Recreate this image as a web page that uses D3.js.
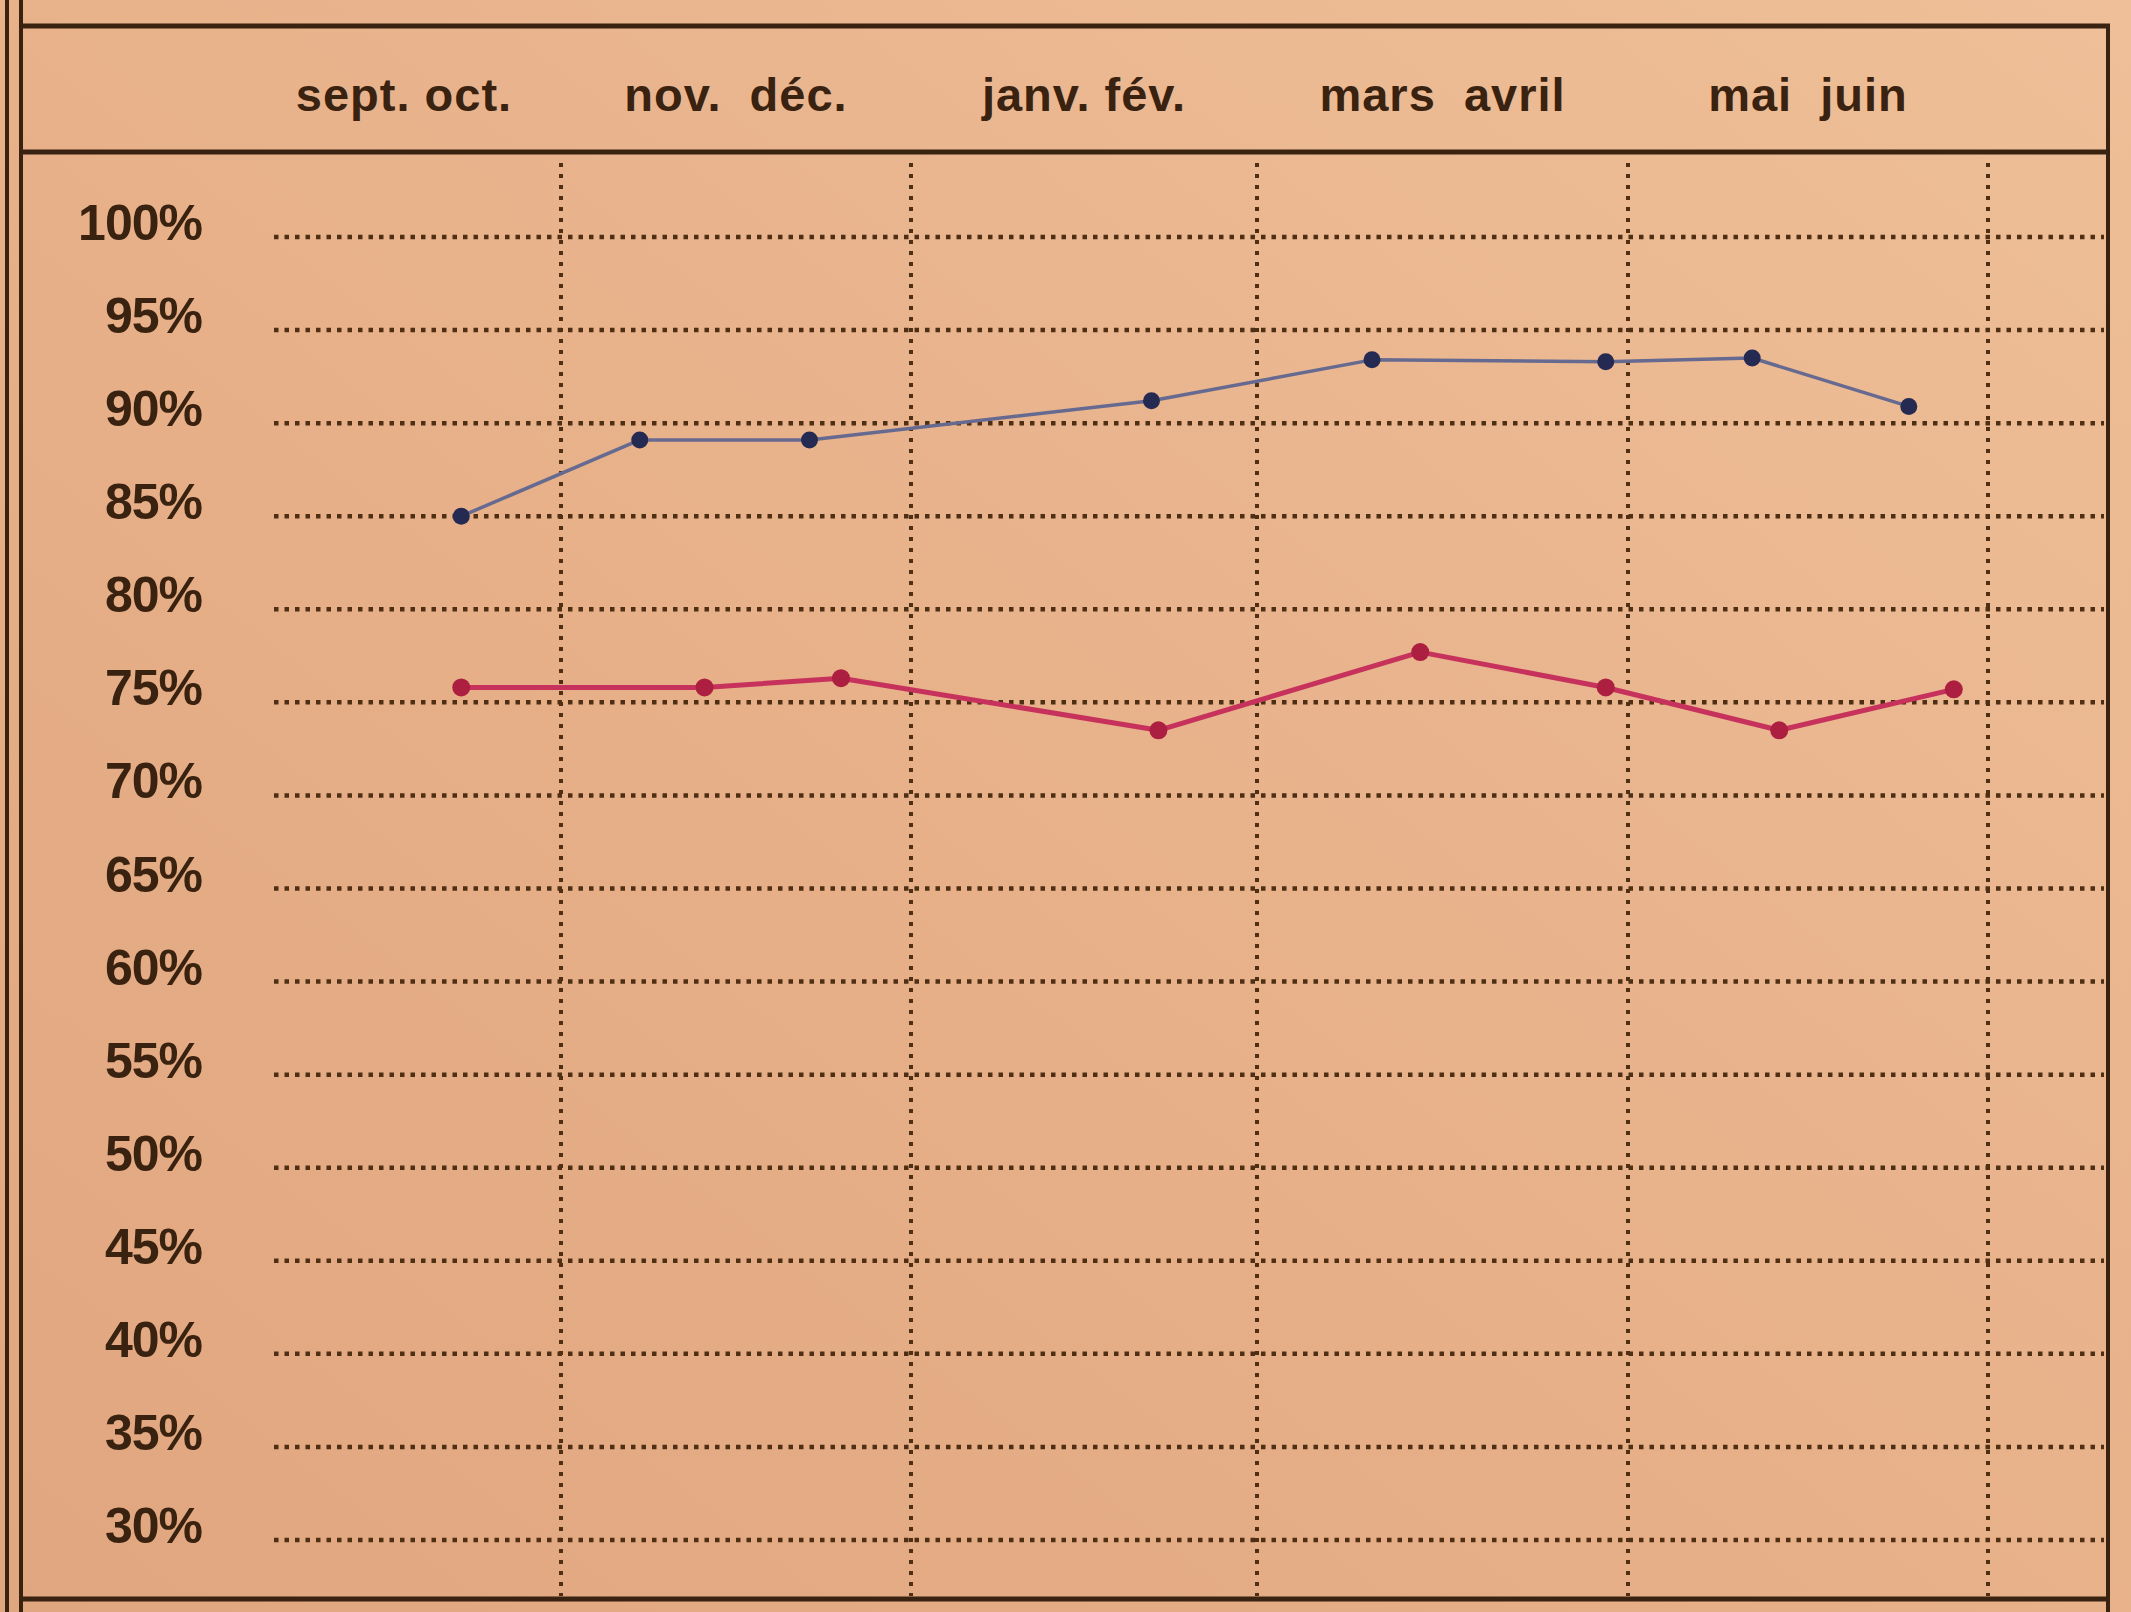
<!DOCTYPE html>
<html>
<head>
<meta charset="utf-8">
<script src="https://d3js.org/d3.v7.min.js"></script>
<style>
    body { margin: 0; background: #e9b690; }
    #chart-area { width: 2131px; height: 1612px; }
    text { font-family: "Liberation Sans", Arial, sans-serif; font-weight: bold; fill: #3a2210; }
</style>
</head>
<body>
<div id="chart-area"></div>
<script>
// two months per column
let periodLabels = ["sept. oct.", "nov.  déc.", "janv. fév.", "mars  avril", "mai  juin"];

// percent ticks on the left
let percentTicks = [100, 95, 90, 85, 80, 75, 70, 65, 60, 55, 50, 45, 40, 35, 30];

// column separators, in months from the left edge of sept.
let columnEdges = [2, 4, 6, 8, 10];

// hand plotted points (x = month position, y = percent)
let blueMonths = [1.43, 2.45, 3.42, 5.39, 6.62, 7.88, 8.69, 9.56];
let blueValues = [85.0, 89.1, 89.1, 91.2, 93.4, 93.3, 93.5, 90.9];

let redMonths = [1.43, 2.82, 3.6, 5.43, 6.88, 7.88, 8.84, 9.81];
let redValues = [75.8, 75.8, 76.3, 73.5, 77.7, 75.8, 73.5, 75.7];

class LineChart {
    constructor(parentElement) {
        this.parentElement = parentElement;
        this.initVis();
    }

    initVis() {
        let vis = this;

        vis.width = 2131;
        vis.height = 1612;

        vis.svg = d3.select("#" + vis.parentElement).append("svg")
            .attr("width", vis.width)
            .attr("height", vis.height);

        // paper
        let grad = vis.svg.append("defs").append("linearGradient")
            .attr("id", "paper")
            .attr("x1", "100%").attr("y1", "0%")
            .attr("x2", "0%").attr("y2", "100%");
        grad.append("stop").attr("offset", "0%").attr("stop-color", "#eebf98");
        grad.append("stop").attr("offset", "55%").attr("stop-color", "#e7b089");
        grad.append("stop").attr("offset", "100%").attr("stop-color", "#e0a67f");

        vis.svg.append("rect")
            .attr("width", vis.width)
            .attr("height", vis.height)
            .attr("fill", "url(#paper)");

        // scales
        vis.x = d3.scaleLinear()
            .domain(columnEdges)
            .range([561, 911, 1257, 1628, 1988]);

        vis.y = d3.scaleLinear()
            .domain([30, 100])
            .range([1540, 237]);

        vis.gridLeft = 274;
        vis.gridRight = 2104;
        vis.gridTop = 163;
        vis.gridBottom = 1596;

        vis.drawFrame();
        vis.drawGrid();
        vis.updateVis();
    }

    drawFrame() {
        let vis = this;
        let ink = "#3a2210";

        // left double rule
        vis.svg.append("line")
            .attr("x1", 7).attr("x2", 7).attr("y1", 0).attr("y2", vis.height)
            .attr("stroke", ink).attr("stroke-width", 4);
        vis.svg.append("line")
            .attr("x1", 21).attr("x2", 21).attr("y1", 0).attr("y2", vis.height)
            .attr("stroke", ink).attr("stroke-width", 4);

        // right rule
        vis.svg.append("line")
            .attr("x1", 2108).attr("x2", 2108).attr("y1", 24).attr("y2", vis.height)
            .attr("stroke", ink).attr("stroke-width", 4);

        // top, header and bottom rules
        [26, 152, 1599].forEach(yy => {
            vis.svg.append("line")
                .attr("x1", 19).attr("x2", 2110)
                .attr("y1", yy).attr("y2", yy)
                .attr("stroke", ink).attr("stroke-width", 5);
        });

        // header labels centred over each pair of months
        vis.svg.selectAll(".period")
            .data(periodLabels)
            .enter()
            .append("text")
            .attr("class", "period")
            .attr("x", (d, i) => vis.x(2 * i + 1) + (i === 0 ? 18 : 0))
            .attr("y", 111)
            .attr("text-anchor", "middle")
            .style("font-size", "47px")
            .style("letter-spacing", "1px")
            .style("white-space", "pre")
            .text(d => d);
    }

    drawGrid() {
        let vis = this;
        let dots = "#4e2f14";

        // horizontal dotted rows
        vis.svg.selectAll(".hgrid")
            .data(percentTicks)
            .enter()
            .append("line")
            .attr("class", "hgrid")
            .attr("x1", vis.gridLeft)
            .attr("x2", vis.gridRight)
            .attr("y1", d => vis.y(d))
            .attr("y2", d => vis.y(d))
            .attr("stroke", dots)
            .attr("stroke-width", 4.5)
            .attr("stroke-dasharray", "4.5 6");

        // vertical dotted column separators
        vis.svg.selectAll(".vgrid")
            .data(columnEdges)
            .enter()
            .append("line")
            .attr("class", "vgrid")
            .attr("x1", d => vis.x(d))
            .attr("x2", d => vis.x(d))
            .attr("y1", vis.gridTop)
            .attr("y2", vis.gridBottom)
            .attr("stroke", dots)
            .attr("stroke-width", 4)
            .attr("stroke-dasharray", "4 7");

        // percent labels
        vis.svg.selectAll(".pct")
            .data(percentTicks)
            .enter()
            .append("text")
            .attr("class", "pct")
            .attr("x", 202)
            .attr("y", d => vis.y(d) + 3)
            .attr("text-anchor", "end")
            .style("font-size", "50px")
            .style("letter-spacing", "-1px")
            .text(d => d + "%");
    }

    updateVis() {
        let vis = this;

        let series = [
            {name: "blue", months: blueMonths, values: blueValues, line: "#676a90", dot: "#242a52", width: 3.5, r: 8.5},
            {name: "red", months: redMonths, values: redValues, line: "#c6325c", dot: "#ad1f40", width: 5, r: 9}
        ];

        let lineGen = d3.line()
            .x(d => vis.x(d[0]))
            .y(d => vis.y(d[1]));

        series.forEach(s => {
            let pts = s.months.map((m, i) => [m, s.values[i]]);

            vis.svg.append("path")
                .datum(pts)
                .attr("fill", "none")
                .attr("stroke", s.line)
                .attr("stroke-width", s.width)
                .attr("stroke-linejoin", "round")
                .attr("d", lineGen);

            vis.svg.selectAll(".dot-" + s.name)
                .data(pts)
                .enter()
                .append("circle")
                .attr("class", "dot-" + s.name)
                .attr("cx", d => vis.x(d[0]))
                .attr("cy", d => vis.y(d[1]))
                .attr("r", s.r)
                .attr("fill", s.dot);
        });
    }
}

new LineChart("chart-area");
</script>
</body>
</html>
